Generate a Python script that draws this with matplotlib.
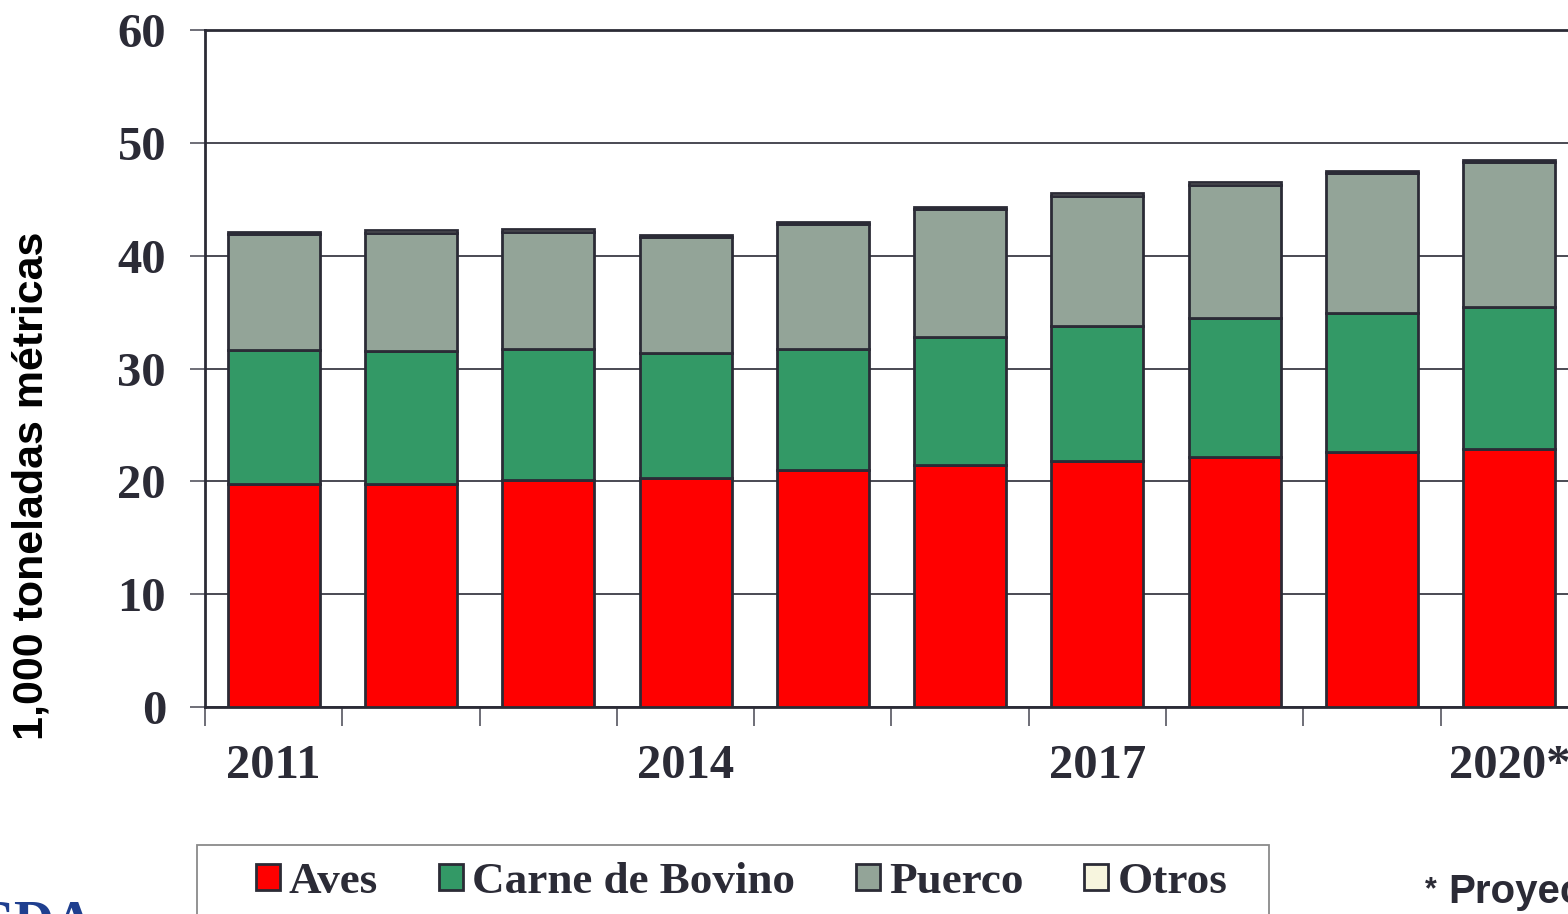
import matplotlib
matplotlib.use("Agg")
import matplotlib.pyplot as plt
from matplotlib.patches import Rectangle
import numpy as np

years = ["2011", "2012", "2013", "2014", "2015", "2016", "2017", "2018", "2019", "2020*"]
shown_labels = ["2011", "", "", "2014", "", "", "2017", "", "", "2020*"]
aves = [19.76, 19.76, 20.09, 20.30, 21.00, 21.45, 21.83, 22.18, 22.63, 22.89]
bovino = [11.88, 11.79, 11.64, 11.07, 10.73, 11.34, 11.94, 12.27, 12.26, 12.59]
puerco = [10.28, 10.43, 10.37, 10.29, 11.08, 11.35, 11.52, 11.84, 12.44, 12.82]
otros = [0.21, 0.28, 0.27, 0.17, 0.17, 0.17, 0.22, 0.20, 0.17, 0.18]
series_names = ["Aves", "Carne de Bovino", "Puerco", "Otros"]
colors = ["#FF0000", "#339966", "#93A498", "#F7F5DE"]
yticks = [0, 10, 20, 30, 40, 50, 60]

W, H = 1568, 914
fig = plt.figure(figsize=(W / 100, H / 100), dpi=100)
txt = "#2b2b36"
serif = ["Liberation Serif", "DejaVu Serif"]
sans = ["Liberation Sans", "DejaVu Sans"]

left, right, bottom, top = 205, 1578, 707, 30
ax = fig.add_axes([left / W, 1 - bottom / H, (right - left) / W, (bottom - top) / H])

x = np.arange(len(years))
data = [aves, bovino, puerco, otros]
base = np.zeros(len(years))
handles = []
for vals, c, name in zip(data, colors, series_names):
    b = ax.bar(x, vals, width=0.67, bottom=base, color=c, edgecolor=txt,
               linewidth=2.0, label=name, zorder=3)
    handles.append(b)
    base = base + np.array(vals)

ax.set_xlim(-0.5, len(years) - 0.5)
ax.set_ylim(0, 60)
ax.set_yticks(yticks)
ax.set_yticklabels([str(v) for v in yticks], fontsize=35, fontweight="bold",
                   family=serif, color=txt)
ax.yaxis.grid(True, color=txt, linewidth=1.2, zorder=0)
ax.set_axisbelow(True)
ax.tick_params(axis="y", direction="out", length=11, width=1.2, color="#555560", pad=17)

ax.set_xticks(x)
ax.set_xticklabels(shown_labels, fontsize=35, fontweight="bold", family=serif, color=txt)
ax.tick_params(axis="x", which="major", length=0, pad=27)
ax.set_xticks(np.arange(-0.5, len(years), 1.0), minor=True)
ax.tick_params(axis="x", which="minor", direction="out", length=14, width=1.2, color="#555560")

for s in ax.spines.values():
    s.set_color(txt)
    s.set_linewidth(2.0)

ax.set_ylabel("1,000 toneladas métricas", fontsize=31, fontweight="bold",
              family=sans, color="black")
ax.yaxis.set_label_coords((51 - left) / (right - left), (bottom - 486) / (bottom - top))

# legend box
fig.patches.append(Rectangle((197 / W, 1 - 930 / H), (1269 - 197) / W, (930 - 845) / H,
                             transform=fig.transFigure, facecolor="white",
                             edgecolor="#8a8a8a", linewidth=1.3, zorder=1))

leg = fig.legend(handles=handles, labels=series_names, loc="center left",
                 bbox_to_anchor=(256 / W, 1 - 882 / H), ncol=4, frameon=False,
                 prop={"family": serif, "weight": "bold", "size": 32.5},
                 handlelength=0.53, handleheight=0.53, handletextpad=0.2,
                 columnspacing=1.35, borderpad=0, borderaxespad=0)
leg.set_zorder(3)
for t in leg.get_texts():
    t.set_color(txt)

fig.text(1437 / W, 1 - 890 / H, "*", fontsize=22, fontweight="bold", family=sans,
         color=txt, ha="right", va="center")
fig.text(1448 / W, 1 - 903 / H, "Proyección", fontsize=29, fontweight="bold",
         family=sans, color=txt, ha="left", va="baseline")
fig.text(95 / W, 1 - 900 / H, "USDA", fontsize=40, fontweight="bold",
         family=serif, color="#1f3f8f", ha="right", va="top")

fig.savefig("out.png", dpi=100)
